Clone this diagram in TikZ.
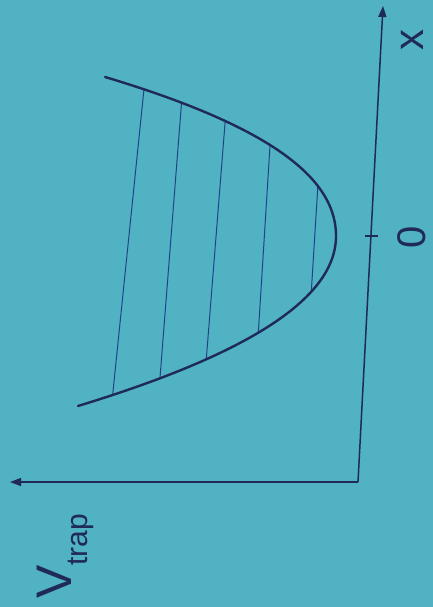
\documentclass[tikz,border=0pt]{standalone}
\usepackage{fontspec}
\setmainfont{Liberation Sans}
\usetikzlibrary{arrows.meta}
\definecolor{bgc}{RGB}{80,178,195}
\definecolor{ink}{RGB}{32,42,88}
\definecolor{lvl}{RGB}{36,66,140}
\tikzset{
  axis/.style={draw=ink, line width=1.5pt, -{Triangle[length=11pt,width=8pt]}},
  well/.style={draw=ink, line width=2.4pt, line cap=round},
  level/.style={draw=lvl, line width=1pt},
  lab/.style={text=ink, rotate=90, inner sep=0pt},
  declare function={
    up(\v)=336-(64*\v*\v-17.2*\v*\v*\v);
    lo(\v)=336-(74.9*\v*\v+8.46*\v*\v*\v);
  },
}
\begin{document}
\begin{tikzpicture}[x=1pt,y=-1pt]
\fill[bgc] (0,0) rectangle (433,607);
\useasboundingbox (0,0) rectangle (433,607);
% axes
\coordinate (O) at (358,482);
\coordinate (xtip) at (383,6);
\coordinate (vtip) at (10,482);
\draw[axis] (O) -- (xtip);
\draw[axis] (O) -- (vtip);
% tick at 0
\coordinate (t1) at (365,236);
\coordinate (t2) at (378,236);
\draw[draw=ink, line width=1.2pt] (t1) -- (t2);
% labels
\node[lab, font=\fontsize{40}{40}\selectfont, text height=29pt, text depth=0pt] (zero) at (411,237) {0};
\node[lab, font=\fontsize{42}{42}\selectfont, text height=22pt, text depth=0pt] (xlab) at (412,40) {x};
\node[lab, anchor=base west, font=\fontsize{50}{50}\selectfont] (vlab) at (71,599)
  {V\raisebox{-0.32em}{\fontsize{30}{30}\selectfont trap}};
% energy levels (ends on the well)
\foreach \i/\yt/\yb in {1/89.3/395, 2/102.7/378.3, 3/121/359.3, 4/145/332.7, 5/186/291.7}{
  \coordinate (a\i) at ({up((\yt-236)/100)},\yt);
  \coordinate (b\i) at ({lo((\yb-236)/100)},\yb);
  \draw[level] (a\i) -- (b\i);
}
% potential well
\draw[well] plot[domain=-1.59:0, samples=60, variable=\v] ({up(\v)},{236+100*\v})
  -- plot[domain=0:1.70, samples=60, variable=\v] ({lo(\v)},{236+100*\v});
\end{tikzpicture}
\end{document}
